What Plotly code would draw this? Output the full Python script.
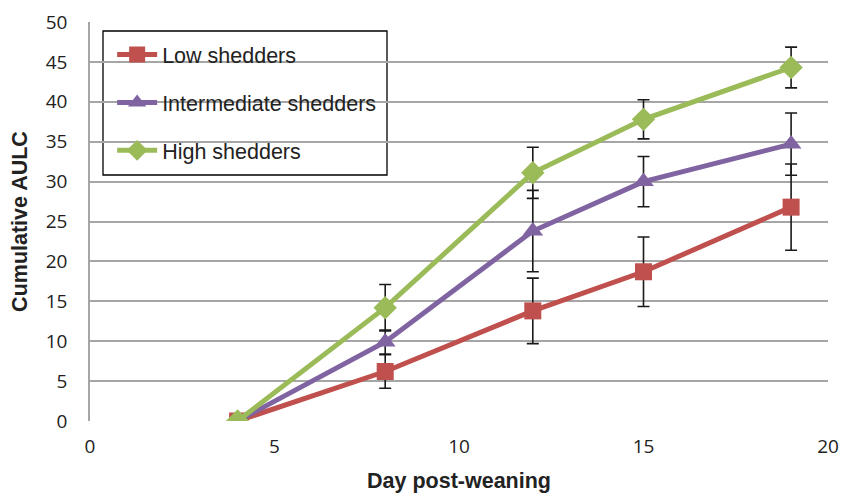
import plotly.graph_objects as go

days = [4, 8, 12, 15, 19]
series_names = ["Low shedders", "Intermediate shedders", "High shedders"]
low_vals = [0, 6.2, 13.8, 18.7, 26.8]
low_err = [0, 2.1, 4.1, 4.35, 5.4]
mid_vals = [0, 9.9, 23.8, 30.0, 34.7]
mid_err = [0, 1.5, 5.1, 3.15, 3.9]
high_vals = [0, 14.2, 31.1, 37.8, 44.3]
high_err = [0, 2.9, 3.2, 2.45, 2.55]

colors = ["#c0504d", "#8064a2", "#9bbb59"]
symbols = ["square", "triangle-up", "diamond"]
vals = [low_vals, mid_vals, high_vals]
errs = [low_err, mid_err, high_err]

fig = go.Figure()
for i in range(3):
    fig.add_trace(go.Scatter(
        x=days, y=vals[i], name=series_names[i], mode="lines+markers",
        legendgroup=f"g{i}",
        line=dict(color=colors[i], width=5),
        marker=dict(symbol=symbols[i], size=17 if i == 0 else 18, color=colors[i]),
        error_y=dict(type="data", array=errs[i], visible=True, color="#1a1a1a",
                     thickness=1.6, width=6),
    ))

fig.update_layout(
    width=841, height=493,
    margin=dict(l=90, r=13, t=22, b=72, autoexpand=False),
    plot_bgcolor="white", paper_bgcolor="white",
    font=dict(family="Open Sans, sans-serif", size=19, color="#222"),
    showlegend=True,
    legend=dict(x=0.03, y=0.97, xanchor="left", yanchor="top",
                bgcolor="rgba(0,0,0,0)", borderwidth=0,
                font=dict(family="Liberation Sans, Arial, sans-serif", size=21.5, color="#222"),
                tracegroupgap=17, traceorder="grouped", itemwidth=40),
    shapes=[dict(type="rect", xref="paper", yref="paper",
                 x0=13/738, x1=297/738, y0=(421-175)/399, y1=(421-31)/399,
                 line=dict(color="black", width=1.3), fillcolor="white", layer="below")],
)
fig.update_xaxes(range=[0, 20], dtick=5, showgrid=False, zeroline=False, automargin=False,
                 showline=False, ticks="", ticklabelstandoff=12,
                 title=dict(text="<b>Day post-weaning</b>", standoff=18,
                            font=dict(family="Liberation Sans, Arial, sans-serif", size=21.5, color="#222")),
                 tickfont=dict(size=19))
fig.update_yaxes(range=[0, 50], dtick=5, showgrid=True, gridcolor="#a6a6a6", gridwidth=1.5,
                 zeroline=False, showline=True, linecolor="#a6a6a6", linewidth=1.5,
                 ticks="", ticklabelstandoff=17, automargin=False,
                 title=dict(text="<b>Cumulative AULC</b>", standoff=12,
                            font=dict(family="Liberation Sans, Arial, sans-serif", size=21.5, color="#222")),
                 tickfont=dict(size=19))

fig.write_html("out.html", config={"displayModeBar": False},
               post_script="document.body.style.margin='0';document.body.style.overflow='hidden';")
